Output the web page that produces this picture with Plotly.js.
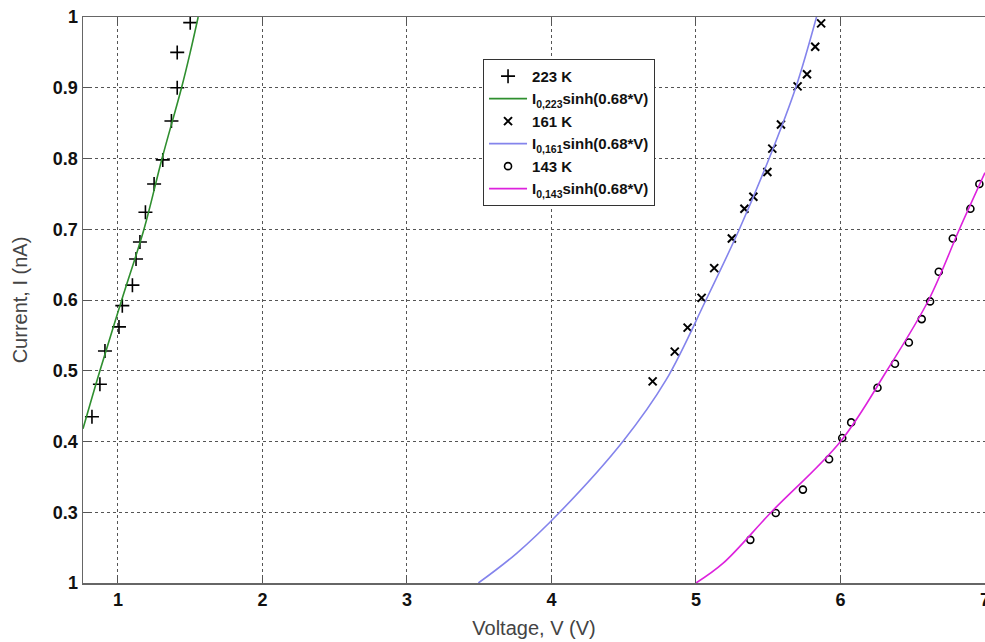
<!DOCTYPE html>
<html>
<head>
<meta charset="utf-8">
<script src="https://cdn.plot.ly/plotly-3.0.1.min.js"></script>
<style>html,body{margin:0;padding:0;background:#fff;}#chart{width:985px;height:642px;}</style>
</head>
<body>
<div id="chart"></div>
<script>
// 223 K measured points
var v223 = [0.82, 0.875, 0.91, 1.007, 1.03, 1.10, 1.125, 1.152, 1.19, 1.25, 1.31, 1.37, 1.41, 1.41, 1.50];
var i223 = [0.435, 0.481, 0.528, 0.562, 0.592, 0.621, 0.658, 0.682, 0.724, 0.764, 0.798, 0.853, 0.900, 0.950, 0.992];
// 223 K fit line
var fitV223 = [0.758, 0.875, 1.026, 1.18, 1.305, 1.44, 1.50, 1.555];
var fitI223 = [0.418, 0.50, 0.60, 0.70, 0.80, 0.90, 0.95, 1.00];
// 161 K measured points
var v161 = [4.70, 4.853, 4.942, 5.039, 5.126, 5.248, 5.335, 5.397, 5.494, 5.528, 5.588, 5.703, 5.768, 5.825, 5.866];
var i161 = [0.485, 0.527, 0.561, 0.603, 0.645, 0.687, 0.729, 0.746, 0.781, 0.814, 0.848, 0.902, 0.919, 0.958, 0.991];
// 161 K fit line
var fitV161 = [3.494, 3.759, 4.057, 4.494, 4.793, 5.069, 5.30, 5.506, 5.69, 5.834];
var fitI161 = [0.20, 0.242, 0.30, 0.40, 0.487, 0.60, 0.70, 0.80, 0.90, 1.00];
// 143 K measured points
var v143 = [5.376, 5.552, 5.740, 5.921, 6.012, 6.074, 6.256, 6.377, 6.473, 6.562, 6.62, 6.68, 6.777, 6.899, 6.961];
var i143 = [0.261, 0.299, 0.332, 0.375, 0.405, 0.427, 0.476, 0.510, 0.540, 0.573, 0.598, 0.640, 0.687, 0.729, 0.764];
// 143 K fit line
var fitV143 = [5.0, 5.188, 5.52, 6.0, 6.32, 6.61, 6.823, 7.0];
var fitI143 = [0.20, 0.228, 0.30, 0.40, 0.50, 0.60, 0.70, 0.78];
// tick labels
var xTickVals = [1, 2, 3, 4, 5, 6, 7];
var xTickText = ['1', '2', '3', '4', '5', '6', '7'];
var yTickVals = [0.2, 0.3, 0.4, 0.5, 0.6, 0.7, 0.8, 0.9, 1.0];
var yTickText = ['1', '0.3', '0.4', '0.5', '0.6', '0.7', '0.8', '0.9', '1'];
// legend names
var names = ['223 K', 'I<sub>0,223</sub>sinh(0.68*V)', '161 K', 'I<sub>0,161</sub>sinh(0.68*V)', '143 K', 'I<sub>0,143</sub>sinh(0.68*V)'];

var traces = [
  {x: v223, y: i223, name: names[0], mode: 'markers', type: 'scatter',
   marker: {symbol: 'cross-thin-open', size: 10, color: '#000', line: {width: 1.6, color: '#000'}}},
  {x: fitV223, y: fitI223, name: names[1], mode: 'lines', type: 'scatter',
   line: {color: '#2f8f2f', width: 1.6, shape: 'spline'}},
  {x: v161, y: i161, name: names[2], mode: 'markers', type: 'scatter',
   marker: {symbol: 'x-thin-open', size: 8, color: '#000', line: {width: 2, color: '#000'}}},
  {x: fitV161, y: fitI161, name: names[3], mode: 'lines', type: 'scatter',
   line: {color: '#8484ec', width: 1.6, shape: 'spline'}},
  {x: v143, y: i143, name: names[4], mode: 'markers', type: 'scatter',
   marker: {symbol: 'circle-open', size: 7, color: '#000', line: {width: 1.6, color: '#000'}}},
  {x: fitV143, y: fitI143, name: names[5], mode: 'lines', type: 'scatter',
   line: {color: '#dd22dd', width: 1.6, shape: 'spline'}}
];

var layout = {
  width: 985, height: 642,
  margin: {l: 83, r: 0, t: 17, b: 59},
  paper_bgcolor: '#fff', plot_bgcolor: '#fff',
  font: {family: 'Liberation Sans, Arial, sans-serif', color: '#111'},
  showlegend: true,
  legend: {x: 0.4435, y: 0.926, xanchor: 'left', yanchor: 'top',
           bgcolor: '#fff', bordercolor: '#333', borderwidth: 1,
           itemwidth: 38,
           font: {size: 15, color: '#111', family: 'Liberation Sans, Arial, sans-serif', weight: 'bold'},
           tracegroupgap: 0},
  xaxis: {
    range: [0.758, 7.0], tickvals: xTickVals, ticktext: xTickText,
    ticklabeloverflow: 'allow',
    showgrid: true, gridcolor: '#555', griddash: 'dot', gridwidth: 1,
    zeroline: false, showline: true, linecolor: '#666', linewidth: 1.5, mirror: 'ticks',
    ticks: 'inside', ticklen: 6, tickcolor: '#555', tickwidth: 1,
    tickfont: {size: 18, color: '#111', family: 'Liberation Sans, Arial, sans-serif', weight: 'bold'},
    title: {text: 'Voltage, V (V)', font: {size: 20, color: '#444'}, standoff: 12}
  },
  yaxis: {
    range: [0.2, 1.0], tickvals: yTickVals, ticktext: yTickText,
    showgrid: true, gridcolor: '#555', griddash: 'dot', gridwidth: 1,
    zeroline: false, showline: true, linecolor: '#666', linewidth: 1.5, mirror: false,
    ticks: 'inside', ticklen: 6, tickcolor: '#555', tickwidth: 1,
    tickfont: {size: 18, color: '#111', family: 'Liberation Sans, Arial, sans-serif', weight: 'bold'},
    title: {text: 'Current, I (nA)', font: {size: 20, color: '#444'}, standoff: 20}
  }
};

Plotly.newPlot('chart', traces, layout, {displayModeBar: false, staticPlot: true});
</script>
</body>
</html>
